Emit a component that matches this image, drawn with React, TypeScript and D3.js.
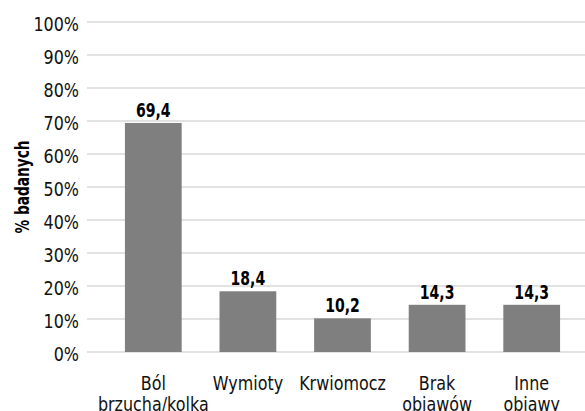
import { useEffect, useRef } from "react";
import * as d3 from "d3";

const categories = [["Ból", "brzucha/kolka"], ["Wymioty"], ["Krwiomocz"], ["Brak", "obiawów"], ["Inne", "obiawy"]];
const values = [69.4, 18.4, 10.2, 14.3, 14.3];
const labels = ["69,4", "18,4", "10,2", "14,3", "14,3"];
const yTicks = [0, 10, 20, 30, 40, 50, 60, 70, 80, 90, 100];

const FONT = "'DejaVu Sans', sans-serif";
// narrow the glyphs, the original uses a condensed face
const SX = 0.84;
const SXB = 0.74;

const App = () => {
  const svgRef = useRef<SVGSVGElement>(null);

  useEffect(() => {
    const svg = d3.select(svgRef.current);
    svg.selectAll("*").remove();

    const x = d3
      .scaleBand()
      .domain(categories.map((_, i) => String(i)))
      .range([106, 579])
      .paddingInner(0.4)
      .paddingOuter(0.2);

    const y = d3.scaleLinear().domain([0, 100]).range([352, 22]);

    // gridlines
    svg
      .append("g")
      .selectAll("line")
      .data(yTicks)
      .enter()
      .append("line")
      .attr("x1", 87)
      .attr("x2", 585)
      .attr("y1", (d) => y(d))
      .attr("y2", (d) => y(d))
      .attr("stroke", "#d9d9d9")
      .attr("stroke-width", 1.3);

    svg
      .append("g")
      .selectAll("text")
      .data(yTicks)
      .enter()
      .append("text")
      .attr("transform", (d) => `translate(79,${y(d) + 8.5}) scale(${SX},1)`)
      .attr("text-anchor", "end")
      .style("font-family", FONT)
      .style("font-size", "19px")
      .attr("fill", "#111")
      .text((d) => d + "%");

    svg
      .append("g")
      .selectAll("rect")
      .data(values)
      .enter()
      .append("rect")
      .attr("x", (_, i) => x(String(i))!)
      .attr("width", x.bandwidth())
      .attr("y", (d) => y(d))
      .attr("height", (d) => y(0) - y(d))
      .attr("fill", "#7f7f7f");

    svg
      .append("g")
      .selectAll("text")
      .data(values)
      .enter()
      .append("text")
      .attr(
        "transform",
        (d, i) => `translate(${x(String(i))! + x.bandwidth() / 2},${y(d) - 6}) scale(${SXB},1)`
      )
      .attr("text-anchor", "middle")
      .style("font-family", FONT)
      .style("font-size", "19px")
      .style("font-weight", "bold")
      .attr("fill", "#000")
      .text((_, i) => labels[i]);

    const cat = svg
      .append("g")
      .selectAll("text")
      .data(categories)
      .enter()
      .append("text")
      .attr("transform", (_, i) => `translate(${x(String(i))! + x.bandwidth() / 2},390) scale(${SX},1)`)
      .attr("text-anchor", "middle")
      .style("font-family", FONT)
      .style("font-size", "19px")
      .attr("fill", "#111");
    cat
      .selectAll("tspan")
      .data((d) => d)
      .enter()
      .append("tspan")
      .attr("x", 0)
      .attr("y", (_, j) => j * 21)
      .text((d) => d);

    svg
      .append("text")
      .attr("transform", `translate(29,187) rotate(-90) scale(0.72,1)`)
      .attr("text-anchor", "middle")
      .style("font-family", FONT)
      .style("font-size", "19px")
      .style("font-weight", "bold")
      .attr("fill", "#000")
      .text("% badanych");
  }, []);

  return (
    <svg
      ref={svgRef}
      width={585}
      height={411}
      style={{ position: "absolute", left: 0, top: 0, background: "#fff" }}
    />
  );
};

export default App;
